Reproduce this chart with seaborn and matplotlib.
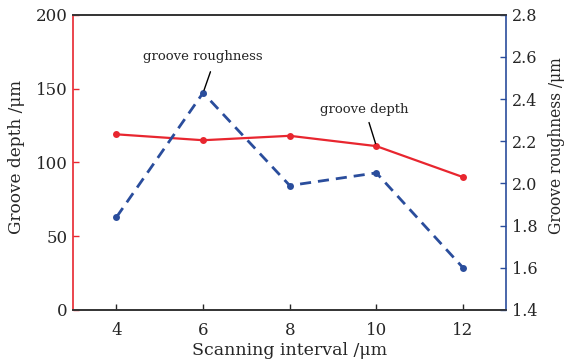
import pandas as pd
import matplotlib.pyplot as plt
import seaborn as sns

# Groove data
interval = [4, 6, 8, 10, 12]
depth = [119, 115, 118, 111, 90]
roughness = [1.84, 2.43, 1.99, 2.05, 1.60]

red = '#e8262f'
blue = '#2a4d9c'

sns.set_style('ticks')
plt.rcParams['font.family'] = ['DejaVu Serif']
plt.rcParams['mathtext.fontset'] = 'dejavuserif'

data = pd.DataFrame({'interval': interval, 'depth': depth, 'roughness': roughness})

fig, ax = plt.subplots(figsize=(5.67, 3.62), dpi=100)
fig.subplots_adjust(left=0.129, right=0.893, top=0.959, bottom=0.144)
ax2 = ax.twinx()

sns.lineplot(x='interval', y='depth', data=data, ax=ax, color=red, lw=1.6,
             marker='o', markersize=5, markeredgewidth=0)
sns.lineplot(x='interval', y='roughness', data=data, ax=ax2, color=blue, lw=2,
             linestyle=(0, (4, 2.5)), marker='o', markersize=5, markeredgewidth=0)

ax.set_xlim(3, 13)
ax.set_ylim(0, 200)
ax2.set_ylim(1.4, 2.8)
ax.set_xticks([4, 6, 8, 10, 12])
ax.set_yticks([0, 50, 100, 150, 200])
ax2.set_yticks([1.4, 1.6, 1.8, 2.0, 2.2, 2.4, 2.6, 2.8])
ax2.set_yticklabels(['1.4', '1.6', '1.8', '2.0', '2.2', '2.4', '2.6', '2.8'])

ax.set_xlabel('Scanning interval /μm', fontsize=12.5)
ax.set_ylabel('Groove depth /μm', fontsize=12.2)
ax2.set_ylabel('Groove roughness /μm', fontsize=11.2)
ax.xaxis.set_label_coords(0.5, -0.108)
ax.yaxis.set_label_coords(-0.111, 0.52)
ax2.yaxis.set_label_coords(1.097, 0.556)

for a in (ax, ax2):
    a.tick_params(direction='in', length=4, width=1, labelsize=12, pad=4)
    for s in a.spines.values():
        s.set_linewidth(1.2)
        s.set_color('#333333')
ax.spines['left'].set_color(red)
ax2.spines['left'].set_visible(False)
ax.spines['right'].set_visible(False)
ax2.spines['right'].set_color(blue)
ax.tick_params(axis='y', color=red)
ax2.tick_params(axis='y', color=blue, labelsize=11.5)
ax.tick_params(axis='x', top=False, pad=9)

# annotations: label text plus a short leader line
ax2.text(6.0, 2.60, 'groove roughness', ha='center', va='center', fontsize=9.5)
ax2.annotate('', xy=(6, 2.43), xytext=(6.17, 2.53),
             arrowprops=dict(arrowstyle='-', color='black', lw=1, shrinkA=0, shrinkB=2))
ax.text(9.71, 136, 'groove depth', ha='center', va='center', fontsize=9.5)
ax.annotate('', xy=(10, 111), xytext=(9.83, 127),
            arrowprops=dict(arrowstyle='-', color='black', lw=1, shrinkA=0, shrinkB=2))

plt.savefig('out.png', dpi=100)
